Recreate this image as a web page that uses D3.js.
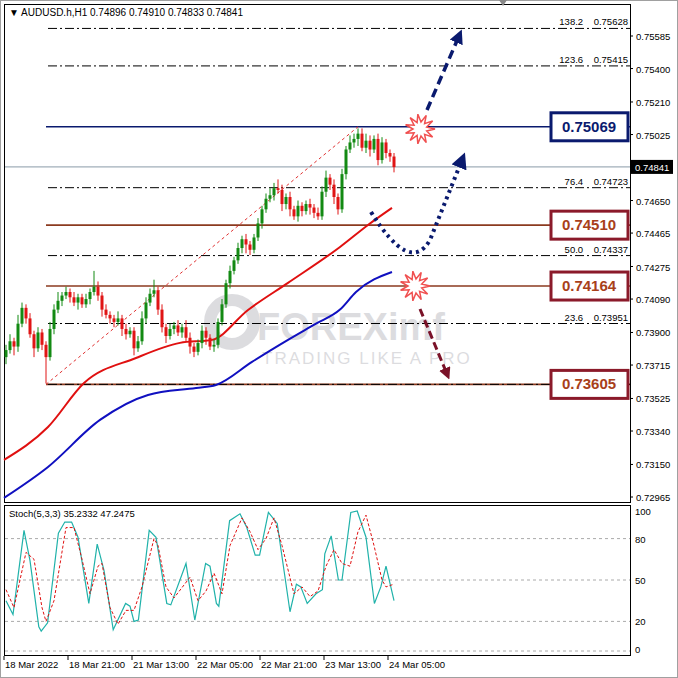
<!DOCTYPE html>
<html><head><meta charset="utf-8">
<script src="https://cdn.jsdelivr.net/npm/d3@7"></script>
<style>body{margin:0;background:#fff}text{font-family:"Liberation Sans",Arial,sans-serif}</style>
</head><body><div id="chart"></div>
<script>
// closes per H1 bar, open = previous close
var closes = [0.7380,0.7385,0.7382,0.7395,0.7404,0.7398,0.7389,0.7381,0.7390,0.7383,
  0.7376,0.7392,0.7403,0.7408,0.7411,0.7413,0.7410,0.7407,0.7410,0.7406,
  0.7409,0.7413,0.7416,0.7411,0.7403,0.7400,0.7398,0.7396,0.7398,0.7392,
  0.7389,0.7391,0.7381,0.7385,0.7398,0.7407,0.7412,0.7414,0.7403,0.7393,
  0.7388,0.7392,0.7394,0.7390,0.7393,0.7387,0.7382,0.7379,0.7384,0.7391,
  0.7387,0.7382,0.7383,0.7396,0.7406,0.7418,0.7425,0.7431,0.7438,0.7443,
  0.7440,0.7437,0.7444,0.7452,0.7460,0.7466,0.7468,0.7472,0.7471,0.7463,
  0.7467,0.7460,0.7456,0.7462,0.7459,0.7463,0.7461,0.7458,0.7456,0.7470,
  0.7478,0.7474,0.7467,0.7460,0.7480,0.7494,0.7498,0.7500,0.7503,0.7495,
  0.7499,0.7494,0.7500,0.7488,0.7498,0.7492,0.7490,0.7484];
var firstOpen = 0.7376;
// wick extensions in pips
var wickUp = [3,4,2,5,3,2,3,2,3,2, 2,4,3,5,2,3,2,3,2,2, 3,2,9,3,2,3,2,2,4,2, 3,2,2,3,4,3,3,6,2,3, 2,3,2,3,2,4,3,2,2,3, 2,2,3,2,3,2,3,2,3,2, 3,2,2,3,2,3,4,3,5,3, 2,3,2,3,2,2,3,2,3,3, 4,2,3,2,3,2,4,3,3,3, 4,3,2,3,3,2,2,2];
var wickDn = [4,2,5,3,2,3,2,5,2,3, 15,2,3,2,3,2,3,2,4,2, 2,3,2,3,4,2,3,3,2,4, 3,2,4,2,2,3,2,2,3,3, 4,2,3,2,3,2,4,3,2,3, 4,2,3,2,2,2,3,2,2,3, 5,3,2,2,3,2,2,3,2,4, 3,4,2,3,3,2,4,3,2,2, 3,3,4,3,2,3,2,3,4,2, 3,4,2,3,2,3,3,3];
var timeLabels = ["18 Mar 2022","18 Mar 21:00","21 Mar 13:00","22 Mar 05:00","22 Mar 21:00","23 Mar 13:00","24 Mar 05:00"];
var timeIdx = [0,16,32,48,64,80,96];
var priceTicks = [0.75585,0.75400,0.75210,0.75025,0.74650,0.74465,0.74275,0.74090,0.73900,0.73715,0.73525,0.73340,0.73150,0.72965];
var maRedIdx = [0,11,20,33,44,52,61,71,84,91,97];
var maRed = [0.73176,0.73363,0.73613,0.73755,0.73841,0.73858,0.74028,0.74182,0.74386,0.74511,0.74608];
var maBlueIdx = [0,11,24,36,48,53,62,71,78,84,88,97];
var maBlue = [0.72960,0.73136,0.73403,0.73545,0.73585,0.73602,0.73733,0.73858,0.73950,0.74030,0.74130,0.74244];
var fibLevels = [0.75628,0.75415,0.74723,0.74337,0.73951,0.73605];
var fibNames = ["138.2","123.6","76.4","50.0","23.6",""];
var keyLevels = [0.75069,0.74510,0.74164,0.73605];
var stochKIdx = [0,1.75,4.5,6,8.2,8.8,10.4,13.1,14.7,16.4,18,20.7,22.8,24.5,26.8,29.9,31,32,33.1,35.8,37.5,40.2,41.2,45,47.2,49.9,51,52.6,53.2,55.9,58.5,60.2,62.3,63.4,65.6,67.8,71,72.6,73.7,75.3,77.5,79.1,79.7,81.3,83.1,84,86.2,87.8,90,92.1,93.7,95,97];
var stochK = [35,25,86,64,16,13,19,84,92,92,81,33,76,57,14,33,31,20,21,86,81,33,32,62,21,62,60,33,31,93,98,88,68,68,99,91,27,47,45,33,40,43,69,82,50,50,99,100,81,33,45,60,35];
var stochDIdx = [0,2,5,7,9,10,12,15,17,19,21,23,24,26,28,30,32,34,37,38,40,42,46,48,50,52,54,56,59,61,63,65,67,69,72,74,76,78,80,82,84,86,88,90,92,94,95,97];
var stochD = [43,30,70,65,30,20,35,88,88,65,40,60,62,30,18,28,28,45,80,75,45,37,52,35,42,55,40,75,95,85,72,80,95,75,40,45,38,42,60,72,62,60,85,97,75,50,45,47];

var W = 678, H = 678;
var svg = d3.select("#chart").append("svg").attr("width", W).attr("height", H);
svg.append("rect").attr("x", 0.5).attr("y", 0.5).attr("width", W - 1).attr("height", H - 1)
  .attr("fill", "#fff").attr("stroke", "#a0a0a0");

var x = d3.scaleLinear().domain([0, 97]).range([6, 394]);
var y = d3.scaleLinear().domain([0.72965, 0.75585]).range([497, 36]);
var ys = d3.scaleLinear().domain([0, 100]).range([649, 511]);
var right = 630;

// watermark
var wm = svg.append("g").attr("opacity", 0.2);
wm.append("circle").attr("cx", 232).attr("cy", 322).attr("r", 22).attr("fill", "none").attr("stroke", "#556").attr("stroke-width", 12);
wm.append("text").attr("x", 257).attr("y", 340).attr("font-size", 38).attr("font-weight", "bold").attr("fill", "#556").text("FOREXimf");
wm.append("text").attr("x", 262).attr("y", 364).attr("font-size", 17).attr("fill", "#556").attr("letter-spacing", 2).text("TRADING LIKE A PRO");

// panels
svg.append("rect").attr("x", 4.5).attr("y", 4.5).attr("width", right - 4).attr("height", 498).attr("fill", "none").attr("stroke", "#000");
svg.append("rect").attr("x", 4.5).attr("y", 505.5).attr("width", right - 4).attr("height", 150).attr("fill", "none").attr("stroke", "#000");

svg.append("path").attr("d", "M499,0 L507,0 L503,6 Z").attr("fill", "#888");
svg.append("text").attr("x", 9).attr("y", 16).attr("font-size", 10).text("\u25BC  AUDUSD.h,H1  0.74896 0.74910 0.74833 0.74841");

// price axis
priceTicks.forEach(function (p) {
  svg.append("line").attr("x1", right).attr("x2", right + 3).attr("y1", y(p)).attr("y2", y(p)).attr("stroke", "#000");
  svg.append("text").attr("x", right + 6).attr("y", y(p) + 4).attr("font-size", 9.5).text(p.toFixed(5));
});

// current price line
svg.append("line").attr("x1", 5).attr("x2", right).attr("y1", y(0.74841)).attr("y2", y(0.74841)).attr("stroke", "#8a9aa8");
svg.append("rect").attr("x", right + 1).attr("y", y(0.74841) - 7).attr("width", 42).attr("height", 14).attr("fill", "#000");
svg.append("text").attr("x", right + 5).attr("y", y(0.74841) + 4).attr("font-size", 9.5).attr("fill", "#fff").text("0.74841");

// key levels
var levelColor = ["#0a1a6e", "#8b3a1f", "#8b3a1f", "#8b3a1f"];
keyLevels.forEach(function (p, i) {
  svg.append("line").attr("x1", 46).attr("x2", right).attr("y1", y(p)).attr("y2", y(p))
    .attr("stroke", levelColor[i]).attr("stroke-width", 1.6);
});

// fib levels
fibLevels.forEach(function (p, i) {
  svg.append("line").attr("x1", 48).attr("x2", right).attr("y1", y(p)).attr("y2", y(p))
    .attr("stroke", "#000").attr("stroke-dasharray", "9,3,2,3");
  if (fibNames[i]) {
    svg.append("text").attr("x", 628).attr("y", y(p) - 3).attr("font-size", 9.5).attr("text-anchor", "end")
      .attr("xml:space", "preserve").text(fibNames[i] + "    " + p.toFixed(5));
  }
});

// fib trend line
svg.append("line").attr("x1", x(10)).attr("y1", y(0.73605)).attr("x2", x(88)).attr("y2", y(0.75069))
  .attr("stroke", "#e03030").attr("stroke-dasharray", "3,3");

// moving averages
var maLine = d3.line().curve(d3.curveMonotoneX);
svg.append("path").attr("d", maLine(maRedIdx.map(function (d, i) { return [x(d) - 2, y(maRed[i])]; })))
  .attr("fill", "none").attr("stroke", "#e01010").attr("stroke-width", 2);
svg.append("path").attr("d", maLine(maBlueIdx.map(function (d, i) { return [x(d) - 2, y(maBlue[i])]; })))
  .attr("fill", "none").attr("stroke", "#1010c0").attr("stroke-width", 2);

// candles
var bars = closes.map(function (c, i) {
  var o = i === 0 ? firstOpen : closes[i - 1];
  return { i: i, o: o, c: c, h: Math.max(o, c) + wickUp[i] / 10000, l: Math.min(o, c) - wickDn[i] / 10000 };
});
var cg = svg.append("g");
bars.forEach(function (b) {
  var col = b.c >= b.o ? "#138a13" : "#e01515";
  cg.append("line").attr("x1", x(b.i)).attr("x2", x(b.i)).attr("y1", y(b.h)).attr("y2", y(b.l)).attr("stroke", col);
  cg.append("rect").attr("x", x(b.i) - 1.5).attr("width", 3)
    .attr("y", y(Math.max(b.o, b.c))).attr("height", Math.max(1, Math.abs(y(b.o) - y(b.c))))
    .attr("fill", col);
});

// level boxes
var boxColor = ["#0a1a6e", "#8b1a2a", "#8b1a2a", "#8b1a2a"];
var boxText = ["#0a1a6e", "#a8401a", "#a8401a", "#a8401a"];
keyLevels.forEach(function (p, i) {
  svg.append("rect").attr("x", 551).attr("y", y(p) - 14).attr("width", 77).attr("height", 28)
    .attr("fill", "#fff").attr("stroke", boxColor[i]).attr("stroke-width", 3);
  svg.append("text").attr("x", 589).attr("y", y(p) + 5).attr("text-anchor", "middle").attr("font-size", 15)
    .attr("font-weight", "bold").attr("fill", boxText[i]).text(p.toFixed(5));
});

// arrows
var defs = svg.append("defs");
[["navy", "#0a1a6e"], ["maroon", "#7a1228"]].forEach(function (m) {
  defs.append("marker").attr("id", "ah-" + m[0]).attr("viewBox", "0 0 10 10").attr("refX", 5).attr("refY", 5)
    .attr("markerWidth", 4).attr("markerHeight", 4).attr("orient", "auto")
    .append("path").attr("d", "M0,0 L10,5 L0,10 Z").attr("fill", m[1]);
});
svg.append("line").attr("x1", 427).attr("y1", 110).attr("x2", 459).attr("y2", 36)
  .attr("stroke", "#0a1a6e").attr("stroke-width", 3.5).attr("stroke-dasharray", "9,5").attr("marker-end", "url(#ah-navy)");
svg.append("path").attr("d", "M371,212 Q410,275 430,240 L462,160")
  .attr("fill", "none").attr("stroke", "#0a1a6e").attr("stroke-width", 4).attr("stroke-dasharray", "3,4").attr("marker-end", "url(#ah-navy)");
svg.append("line").attr("x1", 420).attr("y1", 309).attr("x2", 447).attr("y2", 374)
  .attr("stroke", "#7a1228").attr("stroke-width", 3).attr("stroke-dasharray", "8,4").attr("marker-end", "url(#ah-maroon)");

// bursts
function burst(cx, cy) {
  var pts = d3.range(22).map(function (k) {
    var a = k / 22 * 2 * Math.PI, r = k % 2 ? 7 : 15;
    return [cx + r * Math.cos(a), cy + r * Math.sin(a)];
  });
  svg.append("path").attr("d", d3.line().curve(d3.curveLinearClosed)(pts))
    .attr("fill", "#fff").attr("stroke", "#f05050").attr("stroke-width", 1.5);
}
burst(420, 129);
burst(415, 286);

// stochastic panel
[80, 50, 20].forEach(function (v) {
  svg.append("line").attr("x1", 5).attr("x2", right).attr("y1", ys(v)).attr("y2", ys(v))
    .attr("stroke", "#aaa").attr("stroke-dasharray", "3,3");
});
[100, 80, 50, 20, 0].forEach(function (v) {
  svg.append("text").attr("x", right + 5).attr("y", ys(v) + 4).attr("font-size", 9.5).text(v);
});
svg.append("line").attr("x1", 5).attr("x2", right).attr("y1", 651).attr("y2", 651).attr("stroke", "#aaa").attr("stroke-dasharray", "3,3");
var sl = d3.line();
svg.append("path").attr("d", sl(stochKIdx.map(function (d, i) { return [x(d), ys(stochK[i])]; })))
  .attr("fill", "none").attr("stroke", "#20b2aa").attr("stroke-width", 1.2);
svg.append("path").attr("d", sl(stochDIdx.map(function (d, i) { return [x(d), ys(stochD[i])]; })))
  .attr("fill", "none").attr("stroke", "#e01010").attr("stroke-dasharray", "3,2");
svg.append("text").attr("x", 9).attr("y", 517).attr("font-size", 9.5).text("Stoch(5,3,3) 35.2332 47.2475");

// time axis
timeIdx.forEach(function (t, i) {
  svg.append("line").attr("x1", x(t) - 2).attr("x2", x(t) - 2).attr("y1", 656).attr("y2", 660).attr("stroke", "#000");
  svg.append("text").attr("x", x(t) - 1).attr("y", 668).attr("font-size", 9.5).text(timeLabels[i]);
});
</script></body></html>
